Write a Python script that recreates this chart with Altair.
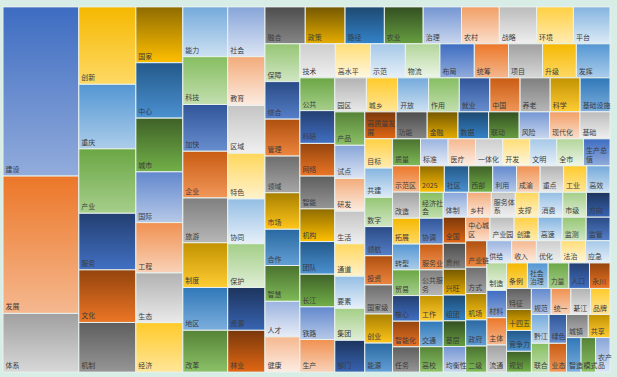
import altair as alt
import pandas as pd
import colorsys

# ---------------- data ----------------
words = [
    "建设", "发展", "体系",
    "创新", "重庆", "产业", "服务", "文化", "机制",
    "国家", "中心", "城市", "国际", "工程", "生态", "经济",
    "能力", "科技", "加快", "企业", "旅游", "制度", "地区", "改革",
    "社会", "教育", "区域", "特色", "协同", "保护", "资源", "林业",
    "融合", "政策", "路径", "农业", "治理", "农村", "战略", "环境", "平台",
    "保障", "综合", "管理", "领域", "市场", "合作", "智慧", "人才", "健康",
    "技术", "高水平", "示范", "物流", "布局", "统筹", "项目", "升级", "发挥",
    "公共", "科研", "网络", "智能", "机构", "团队", "长江", "铁路", "生产",
    "园区", "城乡", "开放", "作用", "就业", "中国", "养老", "科学", "基础设施",
    "产品", "试点", "研发", "生活", "通道", "要素", "集团", "部门",
    "高质量发展", "功能", "金融", "数据", "联动", "风险", "现代化", "基础",
    "目标", "共建", "数字", "领航", "投资", "国家级", "创业", "能源",
    "质量", "标准", "医疗", "一体化", "开发", "文明", "全市", "生产总值",
    "示范区", "改造", "拓展", "转型", "贸易", "核心", "智能化", "任务",
    "2025", "社区", "西部", "利用", "成渝", "重点", "工业", "高效",
    "经济社会", "协调", "服务业", "公共服务", "工作", "交通", "高校",
    "体制", "乡村", "服务体系", "支撑", "消费", "市级", "方向",
    "全国", "贵州", "兴旺", "组团", "基层", "均衡性",
    "中心城区", "产业园", "创建", "高速", "监测", "监管",
    "产业链", "方式", "机场", "政府", "二级",
    "供给", "收入", "优化", "法治", "应急",
    "制造", "材料", "主体", "流通",
    "条例", "社会治理", "力量", "人口", "永川",
    "特征", "十四五", "竞争力", "规划",
    "规范", "统一", "綦江", "品牌",
    "黔江", "联合",
    "绿色", "业态", "城镇", "共享", "智造", "模式", "农产品",
]
counts = [
    12920, 10488, 4484,
    4446, 3705, 3700, 3249, 3021, 2850,
    2640, 2620, 2540, 2400, 2380, 2350, 2340,
    2250, 2160, 2115, 2110, 2025, 2020, 1935, 1890,
    1865, 1828, 1790, 1716, 1679, 1641, 1604, 1567,
    1498, 1480, 1461, 1443, 1424, 1406, 1387, 1369, 1360,
    1330, 1320, 1300, 1290, 1285, 1275, 1260, 1250, 1240,
    1215, 1205, 1195, 1185, 1178, 1172, 1166, 1160, 1154,
    1152, 1151, 1150, 1150, 1149, 1148, 1147, 1147, 1146,
    1080, 1070, 1060, 1050, 1045, 1035, 1030, 1025, 1023,
    1010, 1000, 990, 985, 980, 970, 965, 960,
    850, 845, 838, 832, 830, 826, 824, 819,
    818, 817, 816, 815, 814, 813, 812, 811,
    760, 750, 745, 740, 735, 732, 730, 720,
    715, 710, 705, 702, 700, 698, 697, 689,
    660, 650, 640, 635, 630, 625, 620, 618,
    617, 616, 614, 612, 610, 608, 606,
    604, 600, 598, 596, 594, 592, 590,
    588, 586, 584, 582, 580, 578,
    576, 574, 572, 570, 568, 566,
    564, 562, 560, 558, 556,
    554, 552, 550, 548, 546,
    544, 542, 540, 538,
    536, 534, 532, 530, 528,
    526, 524, 522, 520,
    518, 516, 514, 512,
    511, 510,
    509, 508, 507, 506, 505, 504, 503,
]
# number of words in each strip of the squarified layout
strips = [3, 6, 7, 8, 8, 9, 9, 9, 9, 9, 8, 8, 8, 8, 8, 8, 7, 7, 6, 6,
          5, 5, 4, 5, 4, 4, 2, 2, 2, 3]

# Office accent palette and its tint / shade variants (lumMod, lumOff)
accents = ["#4472C4", "#ED7D31", "#A5A5A5", "#FFC000", "#5B9BD5", "#70AD47"]
variants = [(1, 0), (0.6, 0), (0.8, 0.2), (0.8, 0), (0.6, 0.4),
            (0.5, 0), (0.7, 0.3), (0.7, 0), (0.5, 0.5)]

W, H = 610, 367
LINE_H = 8.5


def hls_hex(h, l, s):
    r, g, b = colorsys.hls_to_rgb(h, max(0, min(1, l)), s)
    return "#%02x%02x%02x" % (round(r * 255), round(g * 255), round(b * 255))


def cell_gradient(i):
    base = accents[i % 6]
    mod, off = variants[(i // 6) % len(variants)]
    r, g, b = (int(base[k:k + 2], 16) / 255 for k in (1, 3, 5))
    h, l, s = colorsys.rgb_to_hls(r, g, b)
    l = l * mod + off
    top = hls_hex(h, l - 0.02, s)
    bottom = hls_hex(h, min(l + 0.2, 0.94), s)
    return {"gradient": "linear", "x1": 0, "y1": 0, "x2": 0, "y2": 1,
            "stops": [{"offset": 0, "color": top}, {"offset": 1, "color": bottom}]}


def treemap(vals, groups, x, y, w, h):
    total = float(sum(vals))
    areas = [v * w * h / total for v in vals]
    out = []
    i = 0
    for gi, g in enumerate(groups):
        chunk = areas[i:i + g]
        s = sum(chunk)
        last = gi == len(groups) - 1
        vertical = w >= h
        if last:
            vertical = not vertical
        side = h if vertical else w
        t = s / side
        pos = y if vertical else x
        for a in chunk:
            ln = a / t
            if vertical:
                out.append((x, pos, x + t, pos + ln))
            else:
                out.append((pos, y, pos + ln, y + t))
            pos += ln
        if vertical:
            x += t
            w -= t
        else:
            y += t
            h -= t
        i += g
    return out


def wrap(word, width):
    if word.isdigit():
        return [word]
    per = max(1, int(width // 7))
    return [word[k:k + per] for k in range(0, len(word), per)]


rects = treemap(counts, strips, 0, 0, W, H)
rows = []
for i, (wd, c, (x0, y0, x1, y1)) in enumerate(zip(words, counts, rects)):
    lines = wrap(wd, x1 - x0)
    rows.append({"word": wd, "count": c, "x0": x0, "y0": y0, "x1": x1, "y1": y1,
                 "label": "\n".join(lines), "nlines": len(lines),
                 "grad": cell_gradient(i)})
df = pd.DataFrame(rows)

xs = alt.Scale(domain=[0, W], nice=False, zero=False)
ys = alt.Scale(domain=[0, H], nice=False, zero=False, reverse=True)

base = alt.Chart(df)
cells = base.mark_rect(stroke="#e9f2ef", strokeWidth=1).encode(
    x=alt.X("x0:Q", scale=xs, axis=None),
    x2="x1:Q",
    y=alt.Y("y0:Q", scale=ys, axis=None),
    y2="y1:Q",
    fill=alt.Fill("grad:N", scale=None, legend=None),
    tooltip=["word:N", "count:Q"],
)
labels = base.transform_calculate(
    ly="datum.y1 - (datum.nlines - 1) * %s" % LINE_H
).mark_text(
    align="left", baseline="bottom", dx=2.5, dy=-3, lineBreak="\n",
    font="Noto Sans CJK SC", fontSize=7, color="#3b3b3b", lineHeight=LINE_H,
).encode(
    x=alt.X("x0:Q", scale=xs, axis=None),
    y=alt.Y("ly:Q", scale=ys, axis=None),
    text="label:N",
)

chart = alt.layer(cells, labels).properties(
    width=W, height=H,
    padding={"left": 2, "top": 5, "right": 5, "bottom": 5},
    background="#d9ede7",
).configure_view(stroke=None)

chart.save("out.html", embed_options={"renderer": "svg", "actions": False})
